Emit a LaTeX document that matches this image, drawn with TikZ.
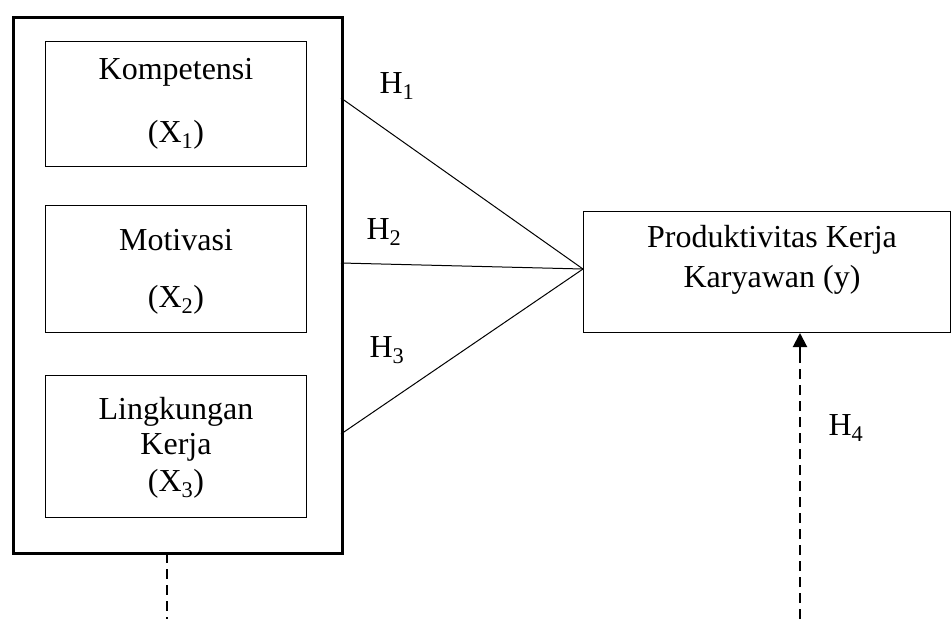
\documentclass[tikz,border=0pt]{standalone}
\usepackage{fontspec}
\setmainfont{Liberation Serif}
\usetikzlibrary{arrows.meta,calc}
\begin{document}
\begin{tikzpicture}[x=1pt,y=-1pt,
  box/.style={draw,line width=1pt,inner sep=0pt,anchor=north west},
  txt/.style={inner sep=0pt,font=\fontsize{32}{38}\selectfont},
  conn/.style={line width=1pt},
  dashln/.style={line width=2.2pt,dash pattern=on 10pt off 6pt}]
\useasboundingbox (0,0) rectangle (951,619);
% outer box
\node[box,line width=3pt,minimum width=329pt,minimum height=536pt] (outer) at (12,16) {};
% inner boxes
\node[box,minimum width=261pt,minimum height=125pt] (b1) at (45,41) {};
\node[box,minimum width=261pt,minimum height=127pt] (b2) at (45,205) {};
\node[box,minimum width=261pt,minimum height=142pt] (b3) at (45,375) {};
\node[txt] (t1a) at (176,72) {Kompetensi};
\node[txt] (t1b) at (176,135) {(X\textsubscript{1})};
\node[txt] (t2a) at (176,240) {Motivasi};
\node[txt] (t2b) at (176,300) {(X\textsubscript{2})};
\node[txt] (t3a) at (176,412) {Lingkungan};
\node[txt] (t3b) at (176,447) {Kerja};
\node[txt] (t3c) at (176,484) {(X\textsubscript{3})};
% right box
\node[box,minimum width=367pt,minimum height=121pt] (prod) at (583,211) {};
\node[txt] (p1) at (772,240) {Produktivitas Kerja};
\node[txt] (p2) at (772,280) {Karyawan (y)};
% connectors
\coordinate (s1) at (341,98);
\coordinate (s2) at (341,263);
\coordinate (s3) at (341,434);
\coordinate (tgt) at (583,269);
\draw[conn] (s1) -- (tgt);
\draw[conn] (s2) -- (tgt);
\draw[conn] (s3) -- (tgt);
% labels
\node[txt] (h1) at (397,86) {H\textsubscript{1}};
\node[txt] (h2) at (384,232) {H\textsubscript{2}};
\node[txt] (h3) at (387,350) {H\textsubscript{3}};
\node[txt] (h4) at (846,428) {H\textsubscript{4}};
% dashed lines
\coordinate (d1a) at (167,553);
\coordinate (d1b) at (167,619);
\draw[dashln] (d1a) -- (d1b);
\coordinate (d2a) at (800,619);
\coordinate (d2m) at (800,352);
\coordinate (d2n) at (800,354);
\coordinate (d2b) at (800,333);
\draw[dashln] (d2a) -- (d2m);
\draw[line width=2pt,-{Triangle[length=14pt,width=14pt]}] (d2n) -- (d2b);
\end{tikzpicture}
\end{document}
